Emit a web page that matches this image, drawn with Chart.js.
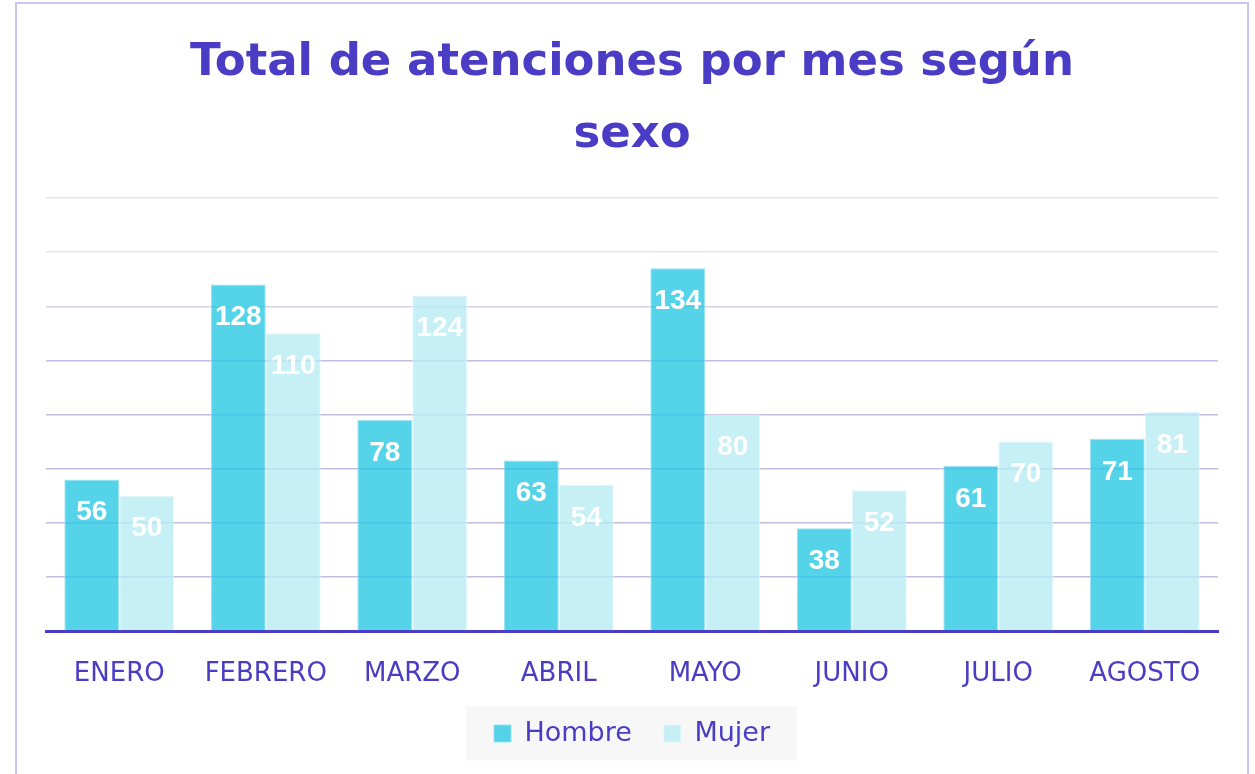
<!DOCTYPE html>
<html lang="es">
<head>
  <meta charset="UTF-8">
  <title>Total de atenciones por mes según sexo</title>
  <script src="https://cdn.jsdelivr.net/npm/chart.js"></script>
  <style>
    html, body { margin: 0; padding: 0; background: #fff; }
    .frame {
      position: absolute; left: 15px; top: 2px;
      width: 1230px; height: 800px;
      border: 2px solid #c9c5f0;
    }
    .wrap { position: absolute; left: 0; top: 0; width: 1255px; height: 774px; }
  </style>
</head>
<body>
  <div class="frame"></div>
  <div class="wrap"><canvas id="chart"></canvas></div>

<script>
const months = ['ENERO', 'FEBRERO', 'MARZO', 'ABRIL', 'MAYO', 'JUNIO', 'JULIO', 'AGOSTO'];
const hombre = [56, 128, 78, 63, 134, 38, 61, 71];
const mujer  = [50, 110, 124, 54, 80, 52, 70, 81];

const purple = '#4a3cc4';

// white numbers inside the top of each bar
const barLabels = {
  id: 'barLabels',
  afterDatasetsDraw(chart) {
    const ctx = chart.ctx;
    ctx.save();
    ctx.fillStyle = '#ffffff';
    ctx.font = 'bold 28px "Liberation Sans"';
    ctx.textAlign = 'center';
    ctx.textBaseline = 'middle';
    chart.data.datasets.forEach((ds, i) => {
      chart.getDatasetMeta(i).data.forEach((bar, j) => {
        ctx.fillText(ds.data[j], bar.x, bar.y + 33);
      });
    });
    ctx.restore();
  }
};

// grey box behind the legend
const legendBg = {
  id: 'legendBg',
  beforeDraw(chart) {
    const boxes = chart.legend && chart.legend.legendHitBoxes;
    if (!boxes || !boxes.length) return;
    const l = Math.min(...boxes.map(b => b.left)) - 28;
    const r = Math.max(...boxes.map(b => b.left + b.width)) + 27;
    const cy = boxes[0].top + boxes[0].height / 2;
    const ctx = chart.ctx;
    ctx.save();
    ctx.fillStyle = '#f7f7f7';
    ctx.fillRect(l, cy - 27, r - l, 54);
    ctx.restore();
  }
};

new Chart(document.getElementById('chart'), {
  type: 'bar',
  data: {
    labels: months,
    datasets: [
      {
        label: 'Hombre',
        data: hombre,
        backgroundColor: 'rgba(43,200,228,0.8)',
        borderColor: 'rgba(150,225,242,0.9)',
        borderWidth: 1
      },
      {
        label: 'Mujer',
        data: mujer,
        backgroundColor: 'rgba(184,236,244,0.8)',
        borderColor: 'rgba(225,247,251,0.9)',
        borderWidth: 1
      }
    ]
  },
  options: {
    responsive: true,
    maintainAspectRatio: false,
    animation: false,
    categoryPercentage: 0.75,
    barPercentage: 1,
    layout: { padding: { left: 46, right: 37, top: 0, bottom: 17 } },
    plugins: {
      title: {
        display: true,
        text: ['Total de atenciones por mes según', 'sexo'],
        color: purple,
        font: { family: 'DejaVu Sans', size: 45, weight: 'bold', lineHeight: 1.6 },
        padding: { top: 27, bottom: 27 }
      },
      legend: {
        position: 'bottom',
        labels: {
          color: purple,
          font: { family: 'DejaVu Sans', size: 27 },
          boxWidth: 17,
          boxHeight: 17,
          padding: 32
        }
      },
      tooltip: { enabled: false }
    },
    scales: {
      x: {
        grid: { display: false, drawTicks: false },
        border: { display: true, color: purple, width: 3 },
        ticks: {
          color: purple,
          font: { family: 'DejaVu Sans', size: 26 },
          padding: 28
        },
        afterFit(scale) { scale.height = 57; }
      },
      y: {
        min: 0,
        max: 160,
        ticks: { display: false, stepSize: 20 },
        border: { display: false },
        grid: {
          drawTicks: false,
          lineWidth: 1.5,
          color: c => c.tick.value >= 140 ? '#e3e1ea' : (c.tick.value >= 120 ? '#d6d1e7' : '#c3bcdf')
        }
      }
    }
  },
  plugins: [barLabels, legendBg]
});
</script>
</body>
</html>
